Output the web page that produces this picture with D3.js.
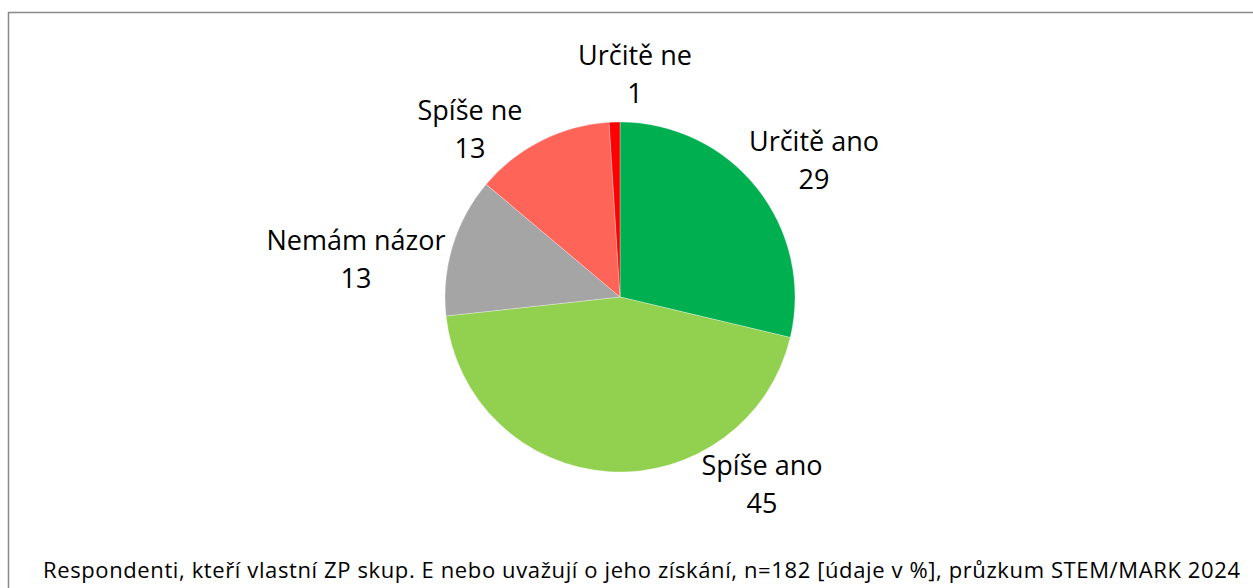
<!DOCTYPE html>
<html>
<head>
<meta charset="utf-8">
<script src="https://cdn.jsdelivr.net/npm/d3@7"></script>
<style>
  body { margin: 0; background: #fff; }
  svg text { font-family: "Open Sans", Lato, sans-serif; fill: #000; }
</style>
</head>
<body>
<svg id="chart" width="1253" height="588"></svg>
<script>
const categories = ["Určitě ano", "Spíše ano", "Nemám názor", "Spíše ne", "Určitě ne"];
const values = [29, 45, 13, 13, 1];
const colors = ["#00B050", "#92D050", "#A5A5A5", "#FF6459", "#FF0000"];
const footnote = "Respondenti, kteří vlastní ZP skup. E nebo uvažují o jeho získání, n=182 [údaje v %], průzkum STEM/MARK 2024";

// first-line baseline of each label, relative to pie centre (Excel best-fit)
const labelOffsets = [[194, -146], [142, 178], [-264, -47], [-150, -177], [15, -232]];

const cx = 620, cy = 297, radius = 175;

const svg = d3.select("#chart");

svg.append("rect")
    .attr("x", 8.5).attr("y", 12.5)
    .attr("width", 1260).attr("height", 600)
    .attr("fill", "none")
    .attr("stroke", "#898989")
    .attr("stroke-width", 1.5);

const data = categories.map((c, i) => ({name: c, value: values[i], color: colors[i], off: labelOffsets[i]}));

const pie = d3.pie().value(d => d.value).sort(null);
const arc = d3.arc().innerRadius(0).outerRadius(radius);

const g = svg.append("g")
    .attr("transform", "translate(" + cx + "," + cy + ")");

g.selectAll("path")
    .data(pie(data))
    .join("path")
    .attr("d", arc)
    .attr("fill", d => d.data.color)
    .attr("stroke", "#fff")
    .attr("stroke-width", 0.3);

const labels = g.selectAll("text.lbl")
    .data(pie(data))
    .join("text")
    .attr("class", "lbl")
    .attr("text-anchor", "middle")
    .attr("font-size", 27)
    .attr("transform", d => "translate(" + d.data.off[0] + "," + d.data.off[1] + ")");

labels.append("tspan")
    .attr("x", 0).attr("y", 0)
    .text(d => d.data.name);
labels.append("tspan")
    .attr("x", 0).attr("y", 38)
    .text(d => d.data.value);

svg.append("text")
    .attr("x", 43)
    .attr("y", 578)
    .attr("font-size", 22)
    .attr("textLength", 1197)
    .text(footnote);
</script>
</body>
</html>
